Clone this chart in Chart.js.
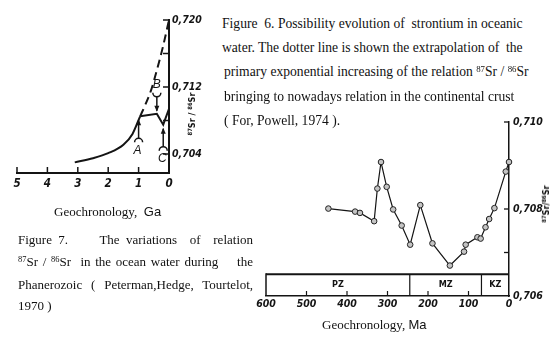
<!DOCTYPE html>
<html><head><meta charset="utf-8">
<script src="https://cdn.jsdelivr.net/npm/chart.js@4.4.1/dist/chart.umd.min.js"></script>
<style>
html,body{margin:0;padding:0;background:#fff;width:559px;height:356px;overflow:hidden;position:relative;font-family:'Liberation Serif','Times New Roman',serif;color:#111;}
canvas{position:absolute;}
#c1{left:0;top:0;width:220px;height:200px;}
#c2{left:250px;top:110px;width:309px;height:210px;}
.t{position:absolute;white-space:nowrap;font-size:13.6px;line-height:16px;}
.f7{font-size:13px;}
.j{text-align:justify;text-align-last:justify;white-space:normal;}
.rot{position:absolute;white-space:nowrap;transform:translate(-50%,-50%) rotate(-90deg);font-family:'DejaVu Sans Condensed','Liberation Sans',sans-serif;font-stretch:condensed;font-weight:bold;font-size:9px;}
sup{font-size:65%;vertical-align:0;position:relative;top:-0.5em;}
</style></head>
<body>
<canvas id="c1" width="220" height="200"></canvas>
<canvas id="c2" width="309" height="210"></canvas>

<div class="t" style="left:222px;top:16px;">Figure&nbsp; 6. Possibility evolution of&nbsp; strontium in oceanic</div>
<div class="t" style="left:222px;top:40px;">water. The dotter line is shown the extrapolation of&nbsp; the</div>
<div class="t" style="left:224px;top:64px;">primary exponential increasing of the relation <sup>87</sup>Sr / <sup>86</sup>Sr</div>
<div class="t" style="left:224px;top:89px;">bringing to nowadays relation in the continental crust</div>
<div class="t" style="left:224px;top:113px;">( For, Powell, 1974 ).</div>

<div class="t f7 j" style="left:18px;top:232px;width:235px;">Figure 7. &nbsp;&nbsp;&nbsp; The variations &nbsp;of &nbsp;relation</div>
<div class="t f7 j" style="left:18px;top:254px;width:235px;"><sup>87</sup>Sr / <sup>86</sup>Sr &nbsp;in the ocean water during &nbsp;&nbsp; the</div>
<div class="t f7 j" style="left:18px;top:277px;width:235px;">Phanerozoic ( Peterman,Hedge, Tourtelot,</div>
<div class="t f7" style="left:18px;top:298px;">1970 )</div>

<div class="t f7" style="left:54px;top:204px;">Geochronology,&nbsp; <span style="font-family:'Liberation Sans',sans-serif;">Ga</span></div>
<div class="t f7" style="left:322px;top:317px;">Geochronology, <span style="font-family:'Liberation Sans',sans-serif;">Ma</span></div>

<div class="rot" style="left:192px;top:114px;"><sup>87</sup>Sr / <sup>86</sup>Sr</div>
<div class="rot" style="left:546px;top:204px;"><sup>87</sup>Sr/<sup>86</sup>Sr</div>

<script>
// ---- Figure 6 (left): 87Sr/86Sr vs age, Ga ----
const gaSolidAge   = [3.1, 2.5, 2.0, 1.5, 1.2, 0.95];
const gaSolidRatio = [0.7030, 0.7035, 0.7041, 0.7051, 0.7064, 0.7085];
const gaModernAge   = [0.95, 0.40, 0.19, 0.0];
const gaModernRatio = [0.7085, 0.7088, 0.7075, 0.7094];
const gaDashAge   = [0.95, 0.8, 0.6, 0.4, 0.2, 0.0];
const gaDashRatio = [0.7085, 0.7097, 0.7115, 0.7140, 0.7168, 0.7200];
const gaTicks = [5, 4, 3, 2, 1, 0];
const gaRatioTicks = [0.704, 0.712, 0.720];
const gaRatioMinorTicks = [0.704, 0.708, 0.712, 0.716, 0.720];
const gaMarkers = ['A', 'B', 'C'];
const gaMarkerAge = [1.0, 0.40, 0.19];

// ---- Figure 7 (right): 87Sr/86Sr vs age, Ma ----
const maAge   = [446, 380, 368, 333, 325, 316, 302, 286, 265, 244, 219, 189, 146, 111, 107, 78, 70, 58, 49, 36, 8, 0];
const maRatio = [0.70801, 0.70794, 0.70791, 0.70772, 0.70847, 0.70908, 0.70851, 0.70799, 0.70762, 0.70718,
                 0.70809, 0.70721, 0.70670, 0.70702, 0.70718, 0.70735, 0.70732, 0.70758, 0.70777, 0.70802, 0.70886, 0.70908];
const maTicks = [600, 500, 400, 300, 200, 100, 0];
const maRatioTicks = [0.706, 0.708, 0.710];
const maRatioMinorTicks = [0.707, 0.708, 0.710];
const eras = ['PZ', 'MZ', 'KZ'];
const eraBounds = [600, 245, 68, 0];

const INK = '#141414';
const tickFont = {family: "'DejaVu Sans Condensed','Liberation Sans',sans-serif", size: 10.5, style: 'italic', weight: 'bold condensed'};
const commaFmt = v => v.toFixed(3).replace('.', ',');

function line(ctx, x1, y1, x2, y2, w) {
  ctx.beginPath(); ctx.lineWidth = w; ctx.moveTo(x1, y1); ctx.lineTo(x2, y2); ctx.stroke();
}

const leftDeco = {
  id: 'leftDeco',
  afterDraw(chart) {
    const {ctx, scales: {x, y}} = chart;
    ctx.save();
    ctx.strokeStyle = INK; ctx.fillStyle = INK;
    gaTicks.forEach(v => { const px = x.getPixelForValue(v); line(ctx, px, y.bottom, px, y.bottom - 6, 1.5); });
    gaRatioMinorTicks.forEach(v => { const py = y.getPixelForValue(v); line(ctx, x.right, py, x.right - 6, py, 1.5); });
    ctx.font = "italic 12px 'Liberation Sans', sans-serif";
    ctx.textAlign = 'center'; ctx.textBaseline = 'middle';
    gaMarkers.forEach((lab, i) => {
      const px = x.getPixelForValue(gaMarkerAge[i]);
      const py = i === 0 ? y.getPixelForValue(gaSolidRatio[gaSolidRatio.length - 1]) : y.getPixelForValue(gaModernRatio[i]);
      if (lab === 'B') {
        const tip = py - 3, tail = py - 17;
        line(ctx, px, tail, px, tip, 1.5);
        ctx.beginPath(); ctx.moveTo(px, tip + 1); ctx.lineTo(px - 2.5, tip - 5); ctx.lineTo(px + 2.5, tip - 5); ctx.closePath(); ctx.fill();
        ctx.lineWidth = 1.5; ctx.beginPath(); ctx.arc(px, tail - 4, 4, 0, Math.PI); ctx.stroke();
        ctx.fillText(lab, px, tail - 12);
      } else {
        const tip = py + 4, tail = py + 22;
        line(ctx, px, tail, px, tip, 1.5);
        ctx.beginPath(); ctx.moveTo(px, tip - 1); ctx.lineTo(px - 2.5, tip + 5); ctx.lineTo(px + 2.5, tip + 5); ctx.closePath(); ctx.fill();
        ctx.lineWidth = 1.5; ctx.beginPath(); ctx.arc(px, tail + 4, 4, Math.PI, 2 * Math.PI); ctx.stroke();
        ctx.fillText(lab, px - 1, tail + 12);
      }
    });
    ctx.restore();
  }
};

const rightDeco = {
  id: 'rightDeco',
  beforeDatasetsDraw(chart) {
    const {ctx, scales: {x, y}} = chart;
    ctx.save();
    ctx.strokeStyle = INK; ctx.fillStyle = INK;
    const top = y.getPixelForValue(0.7065), bot = y.getPixelForValue(0.706);
    const l = x.getPixelForValue(eraBounds[0]), r = x.getPixelForValue(eraBounds[eraBounds.length - 1]);
    line(ctx, l, top, r, top, 2);
    line(ctx, l, top - 1, l, bot, 1.5);
    for (let i = 1; i < eraBounds.length - 1; i++) {
      const px = x.getPixelForValue(eraBounds[i]); line(ctx, px, top, px, bot, 1.2);
    }
    ctx.font = "bold 9px 'DejaVu Sans Condensed','Liberation Sans',sans-serif";
    ctx.textAlign = 'center'; ctx.textBaseline = 'middle';
    eras.forEach((e, i) => {
      const cx = (x.getPixelForValue(eraBounds[i]) + x.getPixelForValue(eraBounds[i + 1])) / 2;
      ctx.fillText(e, cx, top + 10);
    });
    maTicks.slice(1, -1).forEach(v => { const px = x.getPixelForValue(v); line(ctx, px, bot, px, bot - 5, 1.2); });
    maRatioMinorTicks.forEach(v => { const py = y.getPixelForValue(v); line(ctx, x.right, py, x.right - 5, py, 1.3); });
    ctx.restore();
  }
};

const noGrid = {display: false, tickLength: 0, drawTicks: false};

new Chart(document.getElementById('c1'), {
  type: 'line',
  data: {datasets: [
    {data: gaSolidAge.map((a, i) => ({x: a, y: gaSolidRatio[i]})), borderColor: INK, borderWidth: 2, pointRadius: 0, cubicInterpolationMode: 'monotone', clip: false},
    {data: gaModernAge.map((a, i) => ({x: a, y: gaModernRatio[i]})), borderColor: INK, borderWidth: 2, pointRadius: 0, tension: 0, clip: false},
    {data: gaDashAge.map((a, i) => ({x: a, y: gaDashRatio[i]})), borderColor: INK, borderWidth: 2, borderDash: [8, 5], pointRadius: 0, cubicInterpolationMode: 'monotone', clip: false}
  ]},
  options: {
    responsive: false, animation: false, devicePixelRatio: 1,
    layout: {padding: {left: 17, top: 20, right: 0, bottom: 0}},
    plugins: {legend: {display: false}, tooltip: {enabled: false}},
    scales: {
      x: {type: 'linear', reverse: true, min: 0, max: 5,
          afterBuildTicks: s => { s.ticks = gaTicks.map(v => ({value: v})); },
          afterFit: s => { s.height = 27; },
          grid: noGrid, border: {display: true, color: INK, width: 2},
          ticks: {font: {...tickFont, size: 11.5}, color: INK, padding: 4, maxRotation: 0, autoSkip: false, callback: v => String(v)}},
      y: {type: 'linear', position: 'right', min: 0.70173, max: 0.720,
          afterBuildTicks: s => { s.ticks = gaRatioTicks.map(v => ({value: v})); },
          afterFit: s => { s.width = 51; },
          grid: noGrid, border: {display: true, color: INK, width: 2},
          ticks: {font: tickFont, color: INK, padding: 3, autoSkip: false, callback: commaFmt}}
    }
  },
  plugins: [leftDeco]
});

new Chart(document.getElementById('c2'), {
  type: 'line',
  data: {datasets: [
    {data: maAge.map((a, i) => ({x: a, y: maRatio[i]})), borderColor: INK, borderWidth: 1.2, tension: 0,
     pointRadius: 2.8, pointBackgroundColor: '#c4c4c4', pointBorderColor: '#222', pointBorderWidth: 1, clip: false}
  ]},
  options: {
    responsive: false, animation: false, devicePixelRatio: 1,
    layout: {padding: {left: 16, top: 12, right: 0, bottom: 0}},
    plugins: {legend: {display: false}, tooltip: {enabled: false}},
    scales: {
      x: {type: 'linear', reverse: true, min: 0, max: 600,
          afterBuildTicks: s => { s.ticks = maTicks.map(v => ({value: v})); },
          afterFit: s => { s.height = 24; },
          grid: noGrid, border: {display: true, color: INK, width: 1.5},
          ticks: {font: tickFont, color: INK, padding: 2, maxRotation: 0, autoSkip: false, callback: v => String(v)}},
      y: {type: 'linear', position: 'right', min: 0.706, max: 0.710,
          afterBuildTicks: s => { s.ticks = maRatioTicks.map(v => ({value: v})); },
          afterFit: s => { s.width = 50; },
          grid: noGrid, border: {display: true, color: INK, width: 1.5},
          ticks: {font: tickFont, color: INK, padding: 4, autoSkip: false, callback: commaFmt}}
    }
  },
  plugins: [rightDeco]
});
</script>
</body></html>
